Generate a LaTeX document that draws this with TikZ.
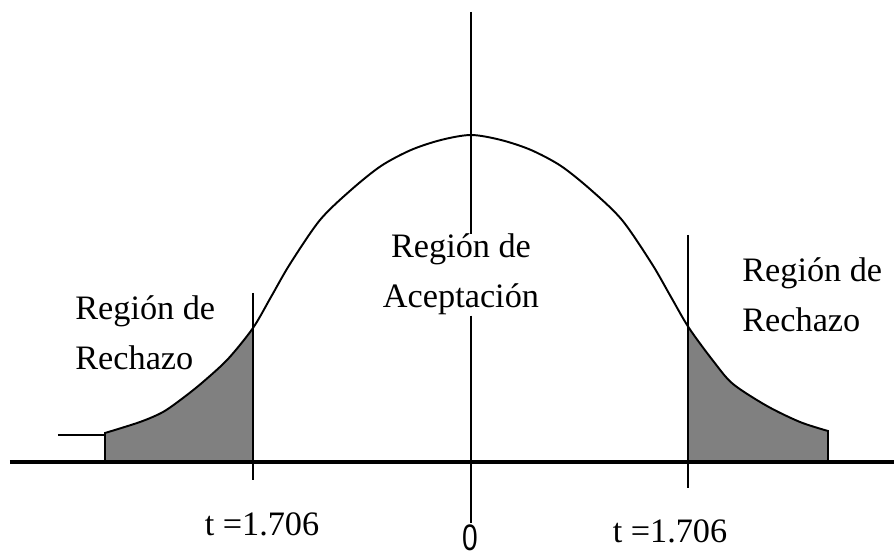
\documentclass[tikz,border=0pt]{standalone}
\usepackage{fontspec}
\setmainfont{Liberation Serif}
\newfontfamily\zerofont{Liberation Sans}
\begin{document}
\begin{tikzpicture}[x=0.02cm,y=0.02cm,
    lbl/.style={font=\fontsize{19.5}{28.5}\selectfont, inner sep=0pt},
    tick/.style={line width=0.8pt},
  ]
  \useasboundingbox (-471,-98) rectangle (423,462);
  \coordinate (axl) at (-461,0);
  \coordinate (axr) at (423,0);
  \coordinate (ctop) at (0,450);
  \coordinate (cbot) at (0,-61);
  \coordinate (ltop) at (-218,169);
  \coordinate (lbot) at (-218,-18);
  \coordinate (rtop) at (217,227);
  \coordinate (rbot) at (217,-26);
  \coordinate (stubl) at (-413,27);
  \coordinate (stubr) at (-366,27);
  % bell curve, tails shaded
  \draw[line width=1.1pt,
    path picture={\fill[gray] (-366,0) rectangle (lbot |- ctop)
                              (rbot) rectangle (357,400);}]
    plot[smooth] coordinates {(-366,29) (-331,40) (-308,50) (-288,64) (-268,80)
      (-243,103) (-218,134) (-200,165) (-181,198) (-151,242) (-120,272)
      (-90,296) (-60,312) (-30,322) (0,327) (30,322) (60,312) (90,296)
      (120,272) (151,242) (181,198) (200,165) (218,134) (243,100) (262,78)
      (296,56) (329,40) (357,31)}
    -- (357,0) -- (-366,0) -- cycle;
  \draw[line width=1.1pt] (stubl) -- (stubr);
  \draw[line width=2.2pt] (axl) -- (axr);
  % labels (base = last line)
  \node[lbl, align=left, anchor=base west] (rechl) at (-396,92) {Región de\\Rechazo};
  \node[lbl, align=center, anchor=base] (acep) at (-10,154) {Región de\\Aceptación};
  \node[lbl, align=left, anchor=base west] (rechr) at (271,130) {Región de\\Rechazo};
  \node[lbl, anchor=base] (tl) at (-209,-74) {t =1.706};
  \node[lbl, anchor=base] (tr) at (199,-81) {t =1.706};
  \node[lbl, font=\zerofont\fontsize{20}{24}\selectfont, anchor=base] (cero) at (-1,-89) {\scalebox{0.8}[1.05]{0}};
  % vertical lines
  \draw[tick] (ctop) -- (ctop |- acep.north);
  \draw[tick] (cbot |- acep.south) -- (cbot);
  \draw[tick] (ltop) -- (lbot);
  \draw[tick] (rtop) -- (rbot);
\end{tikzpicture}
\end{document}
